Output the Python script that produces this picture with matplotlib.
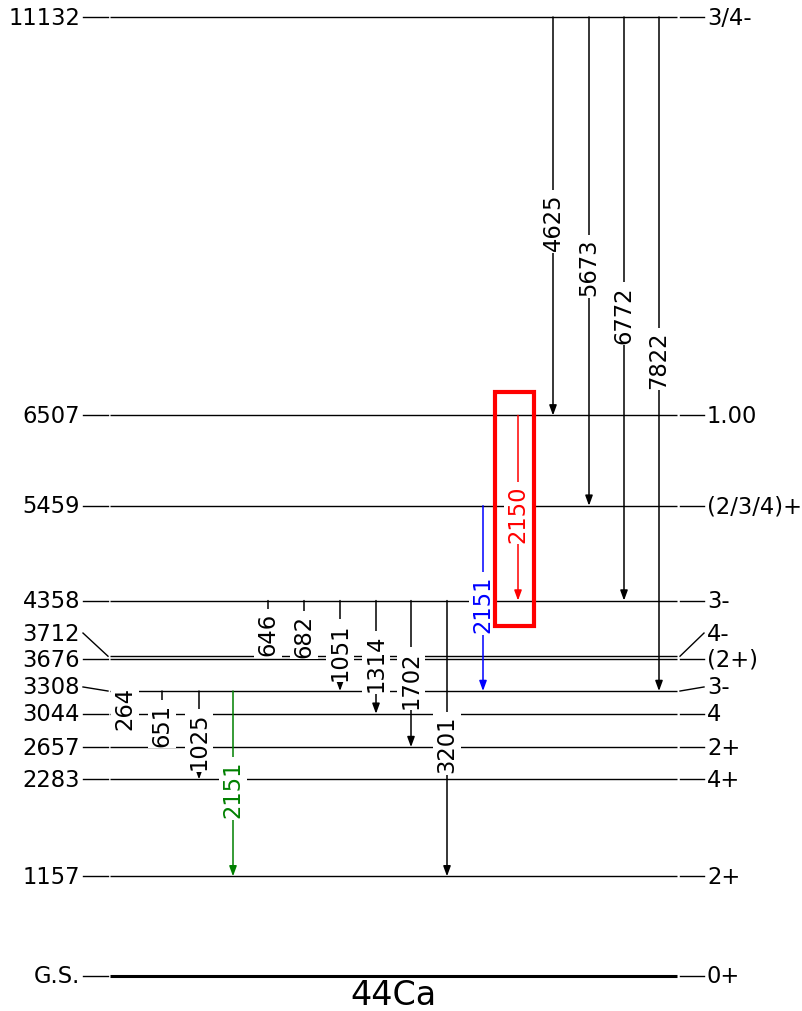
import matplotlib
matplotlib.use("Agg")
import matplotlib.pyplot as plt
from matplotlib.patches import Rectangle

# ---------------- data ----------------
level_energies = [0, 1157, 2283, 2657, 3044, 3308, 3676, 3712, 4358, 5459, 6507, 11132]
level_names = ["G.S.", "1157", "2283", "2657", "3044", "3308", "3676", "3712",
               "4358", "5459", "6507", "11132"]
level_spins = ["0+", "2+", "4+", "2+", "4", "3-", "(2+)", "4-", "3-",
               "(2/3/4)+", "1.00", "3/4-"]
# label heights (where the text sits when it must move away from a neighbour)
label_heights = [0, 1157, 2283, 2657, 3044, 3355, 3676, 3981, 4358, 5459, 6507, 11132]

gamma_from = [11132, 11132, 11132, 11132, 6507, 5459, 4358, 4358, 4358, 4358,
              4358, 4358, 3308, 3308, 3308, 3308]
gamma_to = [6507, 5459, 4358, 3308, 4358, 3308, 3712, 3676, 3308, 3044,
            2657, 1157, 3044, 2657, 2283, 1157]
gamma_labels = ["4625", "5673", "6772", "7822", "2150", "2151", "646", "682",
                "1051", "1314", "1702", "3201", "264", "651", "1025", "2151"]
gamma_colors = ["black", "black", "black", "black", "red", "blue", "black", "black",
                "black", "black", "black", "black", "black", "black", "black", "green"]
# horizontal placement of each transition (layout)
gamma_x = [553, 589, 624, 659, 518, 483, 268, 304, 340, 376, 411, 447, 125, 162, 199, 233]

nucleus = "44Ca"

# ---------------- layout ----------------
W, H = 803, 1012
fig = plt.figure(figsize=(W / 100, H / 100), dpi=100)
ax = fig.add_axes([0, 0, 1, 1])
s = (977 - 18) / 11132.0          # px per keV
ax.set_xlim(0, W)
ax.set_ylim(-(H - 977) / s, 11132 + 18 / s)
ax.axis("off")

x_lev0, x_lev1 = 110, 677
x_tickL0, x_tickL1 = 83, 108
x_tickR0, x_tickR1 = 680, 704
fs = 16.3

for E, name, spin, ly in zip(level_energies, level_names, level_spins, label_heights):
    lw = 2.2 if E == 0 else 1.0
    ax.plot([x_lev0, x_lev1], [E, E], color="black", lw=lw, zorder=1,
            solid_capstyle="butt")
    ax.plot([x_tickL0, x_tickL1], [ly, E], color="black", lw=1.0, zorder=1)
    ax.plot([x_tickR0, x_tickR1], [E, ly], color="black", lw=1.0, zorder=1)
    ax.text(80, ly, name, ha="right", va="center", fontsize=fs, zorder=3)
    ax.text(707, ly, spin, ha="left", va="center", fontsize=fs, zorder=3)

for x, e0, e1, lab, c in zip(gamma_x, gamma_from, gamma_to, gamma_labels, gamma_colors):
    ax.annotate("", xy=(x, e1), xytext=(x, e0),
                arrowprops=dict(arrowstyle="-|>,head_length=0.6,head_width=0.22",
                                color=c, lw=1.1, mutation_scale=10,
                                shrinkA=0, shrinkB=0),
                zorder=2)
    ax.annotate(lab, xy=(x, (e0 + e1) / 2), xytext=(0, -5), textcoords="offset pixels",
                rotation=90, ha="center", va="center", fontsize=fs, color=c,
                bbox=dict(boxstyle="square,pad=0.12", fc="white", ec="none"),
                zorder=4)

# highlight box around the 2150 transition
box_x0, box_x1 = 495, 534
box_e0, box_e1 = 4063, 6779
ax.add_patch(Rectangle((box_x0, box_e0), box_x1 - box_x0, box_e1 - box_e0,
                       fill=False, ec="red", lw=3, zorder=6))

ax.text((x_lev0 + x_lev1) / 2, -(1005 - 977) / s, nucleus, ha="center",
        va="baseline", fontsize=24, zorder=3)

fig.savefig("out.png", dpi=100)
